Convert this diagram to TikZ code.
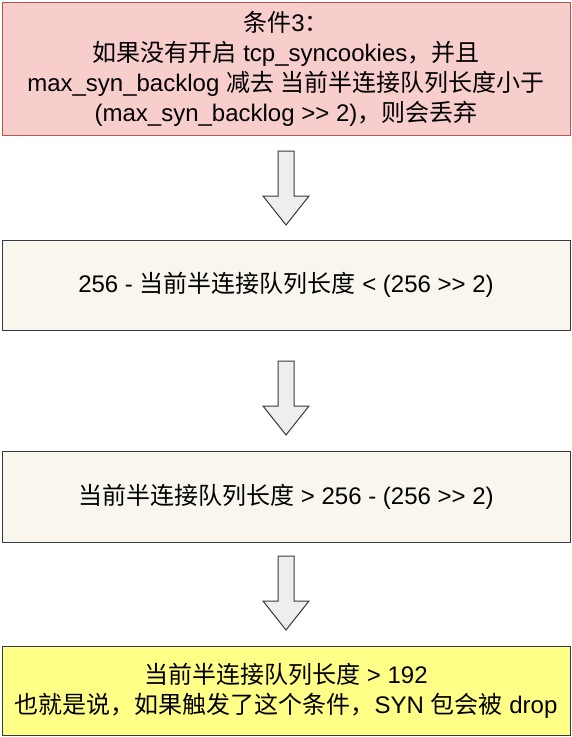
\documentclass[tikz,border=0pt]{standalone}
\usepackage{fontspec}
\setmainfont{Liberation Sans}
\newfontfamily\cjk{Noto Sans CJK SC}
\newcommand{\C}[1]{{\cjk #1}}
\newcommand{\shiftright}{>{}>}
\definecolor{pinkfill}{HTML}{F8CECC}
\definecolor{pinkline}{HTML}{B85450}
\definecolor{beigefill}{HTML}{F9F7ED}
\definecolor{darkline}{HTML}{36393D}
\definecolor{yellowfill}{HTML}{FFFF88}
\definecolor{arrowfill}{HTML}{EEEEEE}
\begin{document}
\begin{tikzpicture}[x=1pt,y=-1pt,
  box/.style={draw=darkline, line width=1pt, minimum width=568pt, inner sep=0pt, align=center,
    font=\fontsize{24}{30}\selectfont, text=black},
  blockarrow/.style={draw=darkline, fill=arrowfill, line width=1pt, line join=miter}]
\useasboundingbox (0,0) rectangle (572,737);
\fill[white] (0,0) rectangle (572,737);
\node[box, fill=pinkfill, draw=pinkline, minimum height=133pt] (b1) at (286,68.5)
  {\C{条件}3\C{：}\\ \C{如果没有开启} tcp\_syncookies\C{，并且}\\ max\_syn\_backlog \C{减去} \C{当前半连接队列长度小于}\\ (max\_syn\_backlog \shiftright{} 2)\C{，则会丢弃}};
\node[box, fill=beigefill, minimum height=90pt] (b2) at (286,285)
  {256 - \C{当前半连接队列长度} < (256 \shiftright{} 2)};
\node[box, fill=beigefill, minimum height=91pt] (b3) at (286,496.5)
  {\C{当前半连接队列长度} > 256 - (256 \shiftright{} 2)};
\node[box, fill=yellowfill, minimum height=89pt] (b4) at (286,690.5)
  {\C{当前半连接队列长度} > 192\\ \C{也就是说，如果触发了这个条件，}SYN \C{包会被} drop};
\foreach \t/\n in {151/a1, 361/a2, 556/a3}{
  \draw[blockarrow] (278,\t) -- (294,\t) -- (294,\t+45) -- (309,\t+45) -- (286,\t+74)
    coordinate (\n) -- (263,\t+45) -- (278,\t+45) -- cycle;
}
\end{tikzpicture}
\end{document}
